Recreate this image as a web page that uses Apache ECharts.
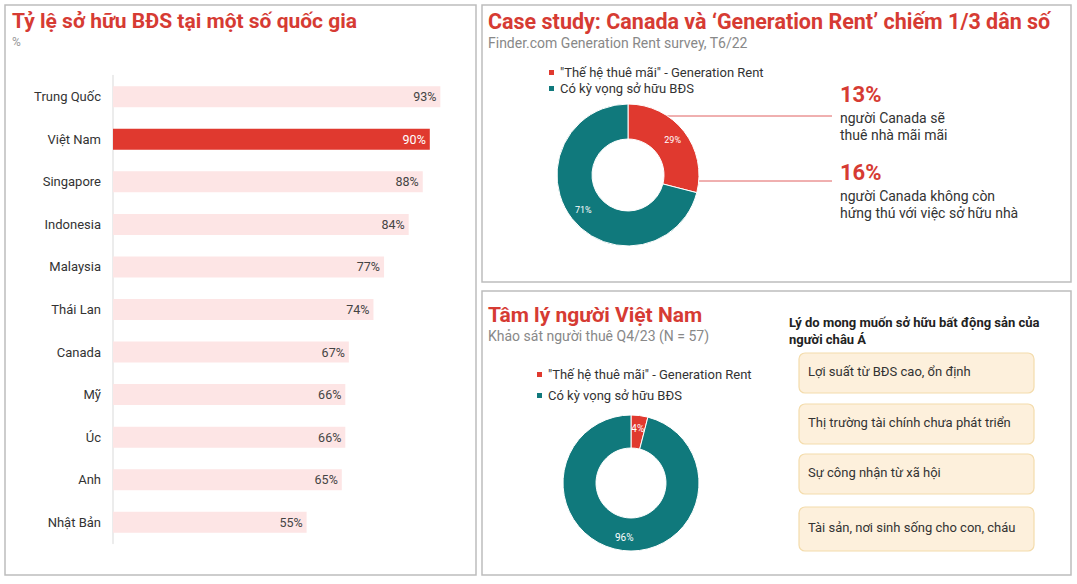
<!DOCTYPE html>
<html>
<head>
<meta charset="utf-8">
<script src="https://cdn.jsdelivr.net/npm/echarts@6/dist/echarts.min.js"></script>
<style>
html,body{margin:0;padding:0;background:#fff;}
#c{width:1077px;height:584px;}
</style>
</head>
<body>
<div id="c"></div>
<script>
// ---- data ----
const countries = ['Trung Quốc','Việt Nam','Singapore','Indonesia','Malaysia','Thái Lan','Canada','Mỹ','Úc','Anh','Nhật Bản'];
const ownership = [93,90,88,84,77,74,67,66,66,65,55];
const highlightCountry = 'Việt Nam';
const pieNames = ['"Thế hệ thuê mãi" - Generation Rent','Có kỳ vọng sở hữu BĐS'];
const canadaShares = [29,71];
const vietnamShares = [4,96];
const canadaNotes = [
  {pct:'13%', text:'người Canada sẽ\nthuê nhà mãi mãi'},
  {pct:'16%', text:'người Canada không còn\nhứng thú với việc sở hữu nhà'}
];
const reasons = ['Lợi suất từ BĐS cao, ổn định','Thị trường tài chính chưa phát triển','Sự công nhận từ xã hội','Tài sản, nơi sinh sống cho con, cháu'];

const RED = '#e0392f', TITLE_RED = '#d63b33', TEAL = '#10797c', PINK = '#fde5e5';
const FONT = 'Roboto, "Noto Sans", sans-serif';

const chart = echarts.init(document.getElementById('c'), null, {renderer:'svg'});

const graphics = [
  // panel borders
  {type:'rect', shape:{x:5,y:5,width:471,height:570}, style:{fill:'none',stroke:'#bdbdbd',lineWidth:1.5}, silent:true},
  {type:'rect', shape:{x:482,y:5,width:589,height:277}, style:{fill:'none',stroke:'#bdbdbd',lineWidth:1.5}, silent:true},
  {type:'rect', shape:{x:482,y:291,width:589,height:284}, style:{fill:'none',stroke:'#bdbdbd',lineWidth:1.5}, silent:true},
  // annotation lines
  {type:'line', shape:{x1:652,y1:116,x2:832,y2:116}, style:{stroke:'#e06060',lineWidth:1}, silent:true},
  {type:'line', shape:{x1:699,y1:181,x2:832,y2:181}, style:{stroke:'#e06060',lineWidth:1}, silent:true}
];
const noteTops = [83, 161];
canadaNotes.forEach((n,i)=>{
  graphics.push({type:'text', left:840, top:noteTops[i], style:{text:n.pct, fill:TITLE_RED, font:'bold 22px '+FONT}});
  graphics.push({type:'text', left:840, top:noteTops[i]+26, style:{text:n.text, fill:'#333', font:'14px '+FONT, lineHeight:17}});
});
const boxTops = [353,404,454,507];
const boxH = [40,40,40,44];
reasons.forEach((r,i)=>{
  graphics.push({type:'rect', shape:{x:799,y:boxTops[i],width:235,height:boxH[i],r:6}, style:{fill:'#fdf0dc',stroke:'#f4dcac',lineWidth:1.2}, silent:true});
  graphics.push({type:'text', left:808, top:boxTops[i]+boxH[i]/2-8, style:{text:r, fill:'#333', font:'13px '+FONT}});
});

const pieLabel = (size)=>({show:true, position:'inside', formatter:'{c}%', color:'#fff', fontSize:size, fontFamily:FONT});

chart.setOption({
  animation:false,
  textStyle:{fontFamily:FONT},
  title:[
    {left:7, top:5, text:'Tỷ lệ sở hữu BĐS tại một số quốc gia', subtext:'%', itemGap:5,
     textStyle:{fontSize:21, fontWeight:'bold', color:TITLE_RED, fontFamily:FONT},
     subtextStyle:{fontSize:12, color:'#999', fontFamily:FONT}},
    {left:483, top:5, text:'Case study: Canada và ‘Generation Rent’ chiếm 1/3 dân số', subtext:'Finder.com Generation Rent survey, T6/22', itemGap:4,
     textStyle:{fontSize:21.5, fontWeight:'bold', color:TITLE_RED, fontFamily:FONT},
     subtextStyle:{fontSize:14, color:'#888', fontFamily:FONT}},
    {left:483, top:299, text:'Tâm lý người Việt Nam', subtext:'Khảo sát người thuê Q4/23 (N = 57)', itemGap:4,
     textStyle:{fontSize:21, fontWeight:'bold', color:TITLE_RED, fontFamily:FONT},
     subtextStyle:{fontSize:14, color:'#888', fontFamily:FONT}},
    {left:784, top:309, text:'Lý do mong muốn sở hữu bất động sản của\nngười châu Á',
     textStyle:{fontSize:13, fontWeight:'bold', color:'#222', lineHeight:17, fontFamily:FONT}}
  ],
  legend:[
    {seriesIndex:1, orient:'vertical', left:542, top:61, icon:'rect', itemWidth:7, itemHeight:7, itemGap:3, data:pieNames,
     textStyle:{fontSize:13, color:'#333', fontFamily:FONT}, selectedMode:false},
    {seriesIndex:2, orient:'vertical', left:530, top:363, icon:'rect', itemWidth:7, itemHeight:7, itemGap:8, data:pieNames,
     textStyle:{fontSize:13, color:'#333', fontFamily:FONT}, selectedMode:false}
  ],
  grid:{left:113, top:75.5, width:352, height:468},
  xAxis:{type:'value', min:0, max:100, show:false},
  yAxis:{type:'category', data:countries, inverse:true,
    axisLine:{show:true, lineStyle:{color:'#e6e6e6', width:1.5}}, axisTick:{show:false},
    axisLabel:{color:'#333', fontSize:13, margin:12, fontFamily:FONT}},
  series:[
    {type:'bar', barWidth:21,
     data: ownership.map((v,i)=>({value:v, itemStyle:{color: countries[i]===highlightCountry ? RED : PINK},
       label:{color: countries[i]===highlightCountry ? '#fff' : '#444'}})),
     label:{show:true, position:'insideRight', formatter:'{c}%', fontSize:12.5, distance:4, fontFamily:FONT}},
    {type:'pie', center:[628,175], radius:[36,71], startAngle:90, clockwise:true,
     itemStyle:{borderColor:'#fff', borderWidth:1},
     label:pieLabel(9), labelLine:{show:false},
     data: pieNames.map((n,i)=>({name:n, value:canadaShares[i], itemStyle:{color: i===0?RED:TEAL}}))},
    {type:'pie', center:[631,483], radius:[35,68], startAngle:90, clockwise:true,
     itemStyle:{borderColor:'#fff', borderWidth:1},
     label:pieLabel(10), labelLine:{show:false},
     data: pieNames.map((n,i)=>({name:n, value:vietnamShares[i], itemStyle:{color: i===0?RED:TEAL}}))}
  ],
  graphic:graphics
});
</script>
</body>
</html>
